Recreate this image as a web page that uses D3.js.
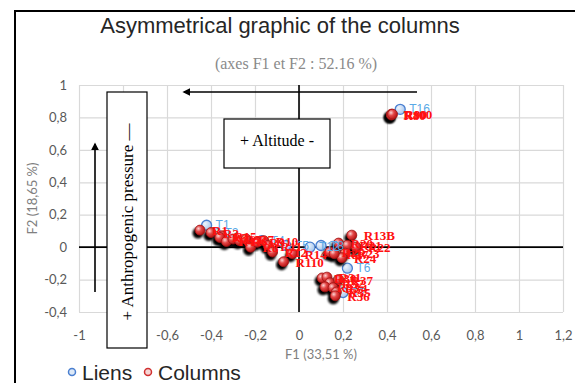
<!DOCTYPE html>
<html>
<head>
<meta charset="utf-8">
<script src="https://cdn.jsdelivr.net/npm/d3@7"></script>
<style>
  body { margin: 0; background: #fff; }
  svg { display: block; }
</style>
</head>
<body>
<div id="chart"></div>
<script>
// Liens (blue) points
const lienNames = ['T1', 'T2', 'T4', 'T5', 'T12', 'T8', 'T6', 'T7', 'T16'];
const lienX = [-0.42, -0.38, -0.17, -0.06, 0.05, 0.10, 0.22, 0.20, 0.46];
const lienY = [0.135, 0.09, 0.04, 0.01, 0.0, 0.01, -0.13, -0.28, 0.85];

// Columns (red) points
const colNames = ['R1', 'R2', 'R15', 'R3', 'R4', 'R5', 'R6', 'R7', 'R8', 'R9', 'R10', 'R11', 'R12', 'R110', 'R14',
  'R13B', 'R20', 'R21', 'R22', 'R23', 'R24', 'R26', 'R27',
  'R30', 'R31', 'R32', 'R33', 'R34', 'R35', 'R36', 'R37',
  'R100', 'R80', 'R90'];
const colX = [-0.45, -0.40, -0.35, -0.36, -0.33, -0.30, -0.27, -0.24, -0.22, -0.19, -0.16, -0.14, -0.12, -0.07, -0.03,
  0.24, 0.18, 0.22, 0.26, 0.21, 0.195, 0.14, 0.16,
  0.105, 0.127, 0.14, 0.118, 0.155, 0.17, 0.165, 0.18,
  0.42, 0.42, 0.425];
const colY = [0.105, 0.09, 0.07, 0.06, 0.035, 0.05, 0.04, 0.05, 0.0, 0.03, 0.04, 0.01, -0.03, -0.09, -0.04,
  0.074, 0.025, 0.012, 0.0, -0.037, -0.065, -0.03, -0.04,
  -0.19, -0.185, -0.22, -0.245, -0.25, -0.277, -0.30, -0.20,
  0.82, 0.815, 0.82];

const xTickVals = [-1, -0.8, -0.6, -0.4, -0.2, 0, 0.2, 0.4, 0.6, 0.8, 1, 1.2];
const yTickVals = [-0.4, -0.2, 0, 0.2, 0.4, 0.6, 0.8, 1];

const W = 575, H = 383;
const fmt = v => String(+v.toFixed(1)).replace('.', ',');

const svg = d3.select('#chart').append('svg')
  .attr('width', W)
  .attr('height', H);

const defs = svg.append('defs');
const red = defs.append('radialGradient').attr('id', 'redBall')
  .attr('cx', '35%').attr('cy', '35%').attr('r', '65%');
red.append('stop').attr('offset', '0%').attr('stop-color', '#fbd4d4');
red.append('stop').attr('offset', '45%').attr('stop-color', '#e44848');
red.append('stop').attr('offset', '100%').attr('stop-color', '#b81616');
const blue = defs.append('radialGradient').attr('id', 'blueBall')
  .attr('cx', '35%').attr('cy', '35%').attr('r', '65%');
blue.append('stop').attr('offset', '0%').attr('stop-color', '#eef4fc');
blue.append('stop').attr('offset', '100%').attr('stop-color', '#a9c8ee');
defs.append('filter').attr('id', 'blur')
  .append('feGaussianBlur').attr('stdDeviation', 1);
defs.append('marker').attr('id', 'arrow')
  .attr('viewBox', '0 0 10 10').attr('refX', 8).attr('refY', 5)
  .attr('markerWidth', 5).attr('markerHeight', 5).attr('orient', 'auto')
  .append('path').attr('d', 'M0,0L10,5L0,10z').attr('fill', '#000');

svg.append('rect').attr('width', W).attr('height', H).attr('fill', '#fff');

// outer frame (left and top)
svg.append('path')
  .attr('d', `M15,${H}V11H${W}`)
  .attr('fill', 'none').attr('stroke', '#000').attr('stroke-width', 2);

// titles
svg.append('text')
  .attr('x', 280).attr('y', 33)
  .attr('text-anchor', 'middle')
  .style('font-family', 'Liberation Sans, Arial, sans-serif')
  .style('font-size', '22px')
  .attr('fill', '#262626')
  .text('Asymmetrical graphic of the columns');

svg.append('text')
  .attr('x', 296).attr('y', 69)
  .attr('text-anchor', 'middle')
  .style('font-family', 'Liberation Serif, serif')
  .style('font-size', '16px')
  .attr('fill', '#8a8a8a')
  .text('(axes F1 et F2 : 52.16 %)');

const x = d3.scaleLinear().domain([-1, 1.2]).range([79, 563]);
const y = d3.scaleLinear().domain([-0.4, 1]).range([312, 85]);

// grid + tick labels
const gx = svg.append('g')
  .attr('transform', `translate(0,${y(-0.4)})`)
  .call(d3.axisBottom(x).tickValues(xTickVals).tickFormat(fmt)
    .tickSize(-(y(-0.4) - y(1))).tickPadding(19));
const gy = svg.append('g')
  .attr('transform', `translate(${x(-1)},0)`)
  .call(d3.axisLeft(y).tickValues(yTickVals).tickFormat(fmt)
    .tickSize(-(x(1.2) - x(-1))).tickPadding(12));
[gx, gy].forEach(g => {
  g.select('.domain').remove();
  g.selectAll('.tick line').attr('stroke', '#d9d9d9').attr('stroke-width', 1.2);
  g.selectAll('.tick text')
    .style('font-family', 'Lato, Open Sans, sans-serif')
    .style('font-size', '13px')
    .attr('fill', '#595959');
});

// zero axes
svg.append('line')
  .attr('x1', x(-1)).attr('x2', x(1.2)).attr('y1', y(0)).attr('y2', y(0))
  .attr('stroke', '#000').attr('stroke-width', 1.6);
svg.append('line')
  .attr('x1', x(0)).attr('x2', x(0)).attr('y1', y(1)).attr('y2', y(-0.4))
  .attr('stroke', '#000').attr('stroke-width', 1.6);

// axis titles
svg.append('text')
  .attr('x', (x(-1) + x(1.2)) / 2).attr('y', 359)
  .attr('text-anchor', 'middle')
  .style('font-family', 'Lato, Open Sans, sans-serif')
  .style('font-size', '13px')
  .attr('fill', '#808080')
  .text('F1 (33,51 %)');
svg.append('text')
  .attr('transform', `translate(37,${(y(1) + y(-0.4)) / 2}) rotate(-90)`)
  .attr('text-anchor', 'middle')
  .style('font-family', 'Lato, Open Sans, sans-serif')
  .style('font-size', '13px')
  .attr('fill', '#808080')
  .text('F2 (18,65 %)');

const lien = lienNames.map((n, i) => ({ n, x: lienX[i], y: lienY[i] }));
const cols = colNames.map((n, i) => ({ n, x: colX[i], y: colY[i] }));

// blue markers
svg.append('g').selectAll('circle').data(lien).join('circle')
  .attr('cx', d => x(d.x)).attr('cy', d => y(d.y)).attr('r', 5)
  .attr('fill', 'url(#blueBall)').attr('stroke', '#4a7fd0').attr('stroke-width', 1.3);

// red markers with shadow
svg.append('g').selectAll('circle').data(cols).join('circle')
  .attr('cx', d => x(d.x) - 2).attr('cy', d => y(d.y) + 3).attr('r', 5.5)
  .attr('fill', '#000').attr('filter', 'url(#blur)');
svg.append('g').selectAll('circle').data(cols).join('circle')
  .attr('cx', d => x(d.x)).attr('cy', d => y(d.y)).attr('r', 5)
  .attr('fill', 'url(#redBall)').attr('stroke', '#a01414').attr('stroke-width', 0.8);

// labels
svg.append('g').selectAll('text').data(lien).join('text')
  .attr('x', d => x(d.x) + 9).attr('y', d => y(d.y) + 4)
  .style('font-family', 'Liberation Sans, Arial, sans-serif')
  .style('font-size', '12px')
  .attr('fill', '#5aa9e6')
  .text(d => d.n);
svg.append('g').selectAll('text').data(cols).join('text')
  .attr('x', d => x(d.x) + 12).attr('y', d => y(d.y) + 5)
  .style('font-family', 'Liberation Serif, serif')
  .style('font-size', '13px')
  .style('font-weight', 'bold')
  .attr('fill', '#ff1010')
  .text(d => d.n);

// annotations
svg.append('line')
  .attr('x1', 95).attr('x2', 95).attr('y1', 292).attr('y2', 144)
  .attr('stroke', '#000').attr('stroke-width', 1.6).attr('marker-end', 'url(#arrow)');
svg.append('rect')
  .attr('x', 107).attr('y', 92).attr('width', 40).attr('height', 256)
  .attr('fill', '#fff').attr('stroke', '#000').attr('stroke-width', 1.2);
svg.append('text')
  .attr('transform', 'translate(133,222) rotate(-90)')
  .attr('text-anchor', 'middle')
  .style('font-family', 'Liberation Serif, serif')
  .style('font-size', '17px')
  .attr('fill', '#000')
  .text('+ Anthropogenic pressure \u2014');

svg.append('line')
  .attr('x1', 417).attr('x2', 184).attr('y1', 92).attr('y2', 92)
  .attr('stroke', '#000').attr('stroke-width', 1.6).attr('marker-end', 'url(#arrow)');
svg.append('rect')
  .attr('x', 224).attr('y', 119).attr('width', 106).attr('height', 49)
  .attr('fill', '#fff').attr('stroke', '#000').attr('stroke-width', 1.2);
svg.append('text')
  .attr('x', 277).attr('y', 146)
  .attr('text-anchor', 'middle')
  .style('font-family', 'Liberation Serif, serif')
  .style('font-size', '16px')
  .attr('fill', '#000')
  .text('+ Altitude -');

// legend
const leg = svg.append('g').attr('transform', 'translate(0,372)');
leg.append('circle').attr('cx', 72).attr('cy', 0).attr('r', 3.5)
  .attr('fill', '#dde9f7').attr('stroke', '#4a7fd0').attr('stroke-width', 1.5);
leg.append('text').attr('x', 82).attr('y', 8)
  .style('font-family', 'Liberation Sans, Arial, sans-serif')
  .style('font-size', '21px').attr('fill', '#262626').text('Liens');
leg.append('circle').attr('cx', 148).attr('cy', 0).attr('r', 3.5)
  .attr('fill', '#f6d6d6').attr('stroke', '#d03030').attr('stroke-width', 1.5);
leg.append('text').attr('x', 158).attr('y', 8)
  .style('font-family', 'Liberation Sans, Arial, sans-serif')
  .style('font-size', '21px').attr('fill', '#262626').text('Columns');
</script>
</body>
</html>
